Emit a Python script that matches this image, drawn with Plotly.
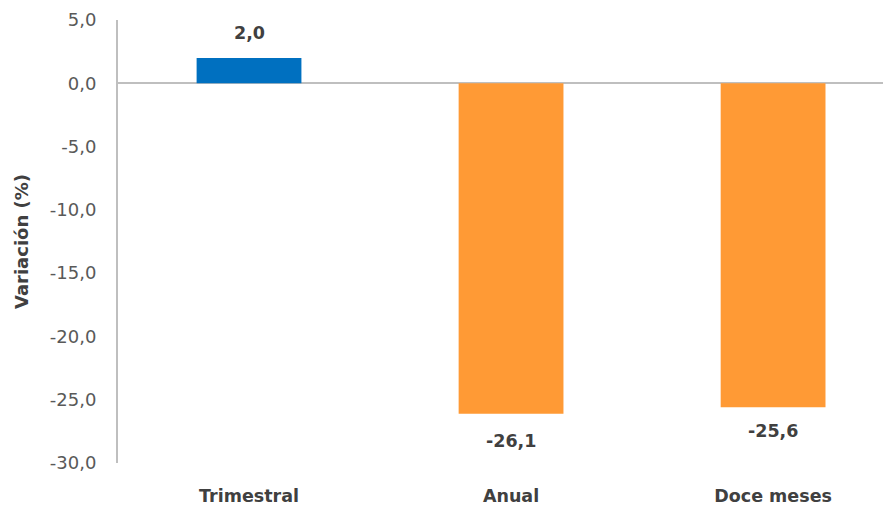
import plotly.graph_objects as go

categories = ["Trimestral", "Anual", "Doce meses"]
values = [2.0, -26.1, -25.6]
colors = ["#0070C0", "#FF9A35", "#FF9A35"]
tick_vals = [5, 0, -5, -10, -15, -20, -25, -30]
tick_text = ["5,0", "0,0", "-5,0", "-10,0", "-15,0", "-20,0", "-25,0", "-30,0"]
label_text = ["2,0", "-26,1", "-25,6"]
label_shift = [25, -27, -24]

font_family = "DejaVu Sans"

fig = go.Figure()
fig.add_trace(go.Bar(
    x=categories, y=values,
    marker=dict(color=colors, line=dict(width=0)),
    hoverinfo="skip",
))

for c, v, t, s in zip(categories, values, label_text, label_shift):
    fig.add_annotation(
        x=c, y=v, text="<b>%s</b>" % t, showarrow=False,
        yshift=s, yanchor="middle",
        font=dict(family=font_family, size=17.5, color="#404040"),
    )

# page body has an 8px default margin, so the figure is sized to fit the window
fig.update_layout(
    width=883, height=498,
    margin=dict(l=110, r=0, t=12, b=43),
    paper_bgcolor="white", plot_bgcolor="white",
    showlegend=False,
    bargap=0.6,
    font=dict(family=font_family, size=18, color="#595959"),
    xaxis=dict(
        range=[-0.5, 2.45],
        automargin=False,
        showgrid=False, showline=False, zeroline=False,
        tickfont=dict(family=font_family, size=17.5, color="#404040"),
        tickprefix="<b>", ticksuffix="</b>",
        ticklabelstandoff=20,
    ),
    yaxis=dict(
        range=[-30, 5],
        automargin=False,
        tickvals=tick_vals, ticktext=tick_text,
        showgrid=False,
        showline=True, linecolor="#BFBFBF", linewidth=2,
        zeroline=True, zerolinecolor="#BFBFBF", zerolinewidth=2,
        ticks="",
        ticklabelstandoff=16,
        tickfont=dict(family=font_family, size=18, color="#595959"),
        title=dict(text="<b>Variación (%)</b>", standoff=17,
                   font=dict(family=font_family, size=18, color="#404040")),
    ),
)

fig.write_html("out.html")
